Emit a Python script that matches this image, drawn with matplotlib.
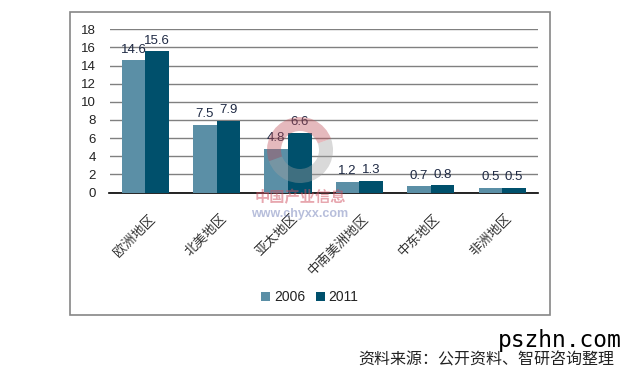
import matplotlib
matplotlib.use("Agg")
import matplotlib.pyplot as plt
from matplotlib.patches import Rectangle, Wedge
import numpy as np

plt.rcParams['font.family'] = ['Liberation Sans', 'Noto Sans CJK SC', 'DejaVu Sans']

categories = ['欧洲地区', '北美地区', '亚太地区', '中南美洲地区', '中东地区', '非洲地区']
series_names = ['2006', '2011']
values_2006 = [14.6, 7.5, 4.8, 1.2, 0.7, 0.5]
values_2011 = [15.6, 7.9, 6.6, 1.3, 0.8, 0.5]
yticks = [0, 2, 4, 6, 8, 10, 12, 14, 16, 18]
colors = ['#5B8FA6', '#00506C']

W, H = 631, 382
fig = plt.figure(figsize=(W / 100, H / 100), dpi=100)

# outer frame
fig.patches.append(Rectangle((70 / W, 1 - 315 / H), 480 / W, 303 / H,
                             transform=fig.transFigure, fill=False,
                             edgecolor='#868686', linewidth=1.2))

ax = fig.add_axes([109.5 / W, 1 - 192.5 / H, 428.5 / W, 163.2 / H])
x = np.arange(len(categories))
bw = 0.33
b1 = ax.bar(x - bw / 2, values_2006, bw, color=colors[0], label=series_names[0], zorder=3)
b2 = ax.bar(x + bw / 2, values_2011, bw, color=colors[1], label=series_names[1], zorder=3)

for bars, vals in ((b1, values_2006), (b2, values_2011)):
    for r, v in zip(bars, vals):
        ax.text(r.get_x() + r.get_width() / 2, v + 0.5, f'{v}', ha='center', va='bottom',
                fontsize=9.5, color='#1F2A44', zorder=5)

ax.set_xlim(-0.5, len(categories) - 0.5)
ax.set_ylim(0, 18)
ax.set_yticks(yticks)
ax.set_yticklabels([str(t) for t in yticks], fontsize=9.5, color='#222222')
ax.yaxis.grid(True, color='#808080', linewidth=1.0, zorder=0)
ax.set_axisbelow(True)
for s in ['top', 'right', 'left']:
    ax.spines[s].set_visible(False)
ax.spines['bottom'].set_color('#000000')
ax.spines['bottom'].set_linewidth(1.2)
ax.tick_params(axis='y', length=0, pad=10)
ax.tick_params(axis='x', length=0, pad=14)
ax.set_xticks(x + 0.04)
ax.set_xticklabels(categories, rotation=45, ha='right', va='top', rotation_mode='anchor',
                   fontsize=9.5, color='#333333', family=['Noto Sans CJK SC', 'DejaVu Sans'])

leg = fig.legend(handles=[b1, b2], labels=series_names, loc='center',
                 bbox_to_anchor=(310 / W, 1 - 297 / H), ncol=2, frameon=False,
                 fontsize=10, handlelength=0.6, handleheight=0.6, handletextpad=0.3,
                 columnspacing=0.8)
for t in leg.get_texts():
    t.set_color('#222222')

# watermark logo
fig.patches.append(Wedge((300, H - 150), 33, 20, 200, width=14, transform=None,
                         facecolor='#C0505A', alpha=0.4, zorder=10))
fig.patches.append(Wedge((300, H - 150), 33, 200, 380, width=14, transform=None,
                         facecolor='#A0A0A0', alpha=0.4, zorder=10))
fig.text(300 / W, 1 - 197 / H, '中国产业信息', ha='center', va='center', fontsize=11,
         fontweight='bold', color='#D05060', alpha=0.5,
         family=['Noto Sans CJK SC', 'DejaVu Sans'], zorder=11)
fig.text(300 / W, 1 - 214 / H, 'www.chyxx.com', ha='center', va='center', fontsize=9,
         fontweight='bold', color='#6070B0', alpha=0.45, zorder=11)

fig.text(614 / W, 1 - 360 / H, '资料来源：公开资料、智研咨询整理', ha='right', va='center',
         fontsize=11.5, color='#222222', family=['Noto Sans CJK SC', 'DejaVu Sans'])
fig.text(622 / W, 1 - 347 / H, 'pszhn.com', ha='right', va='baseline', fontsize=16.5,
         color='#000000', family=['DejaVu Sans Mono'], zorder=12)

fig.savefig('out.png', dpi=100)
